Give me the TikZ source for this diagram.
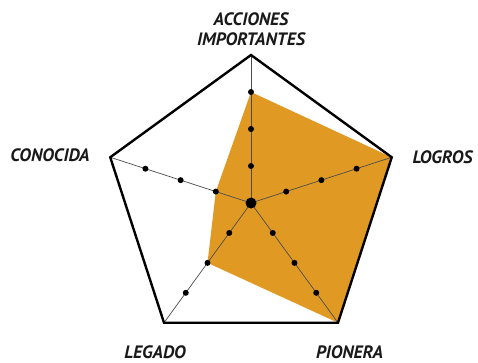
\documentclass[tikz,border=0pt]{standalone}
\usepackage{fontspec}
\setmainfont{PT Sans}
\usetikzlibrary{positioning}
\definecolor{radarfill}{RGB}{224,154,36}

\begin{document}
\begin{tikzpicture}[
    x=1bp, y=1bp,
    outline/.style={draw=black, line width=2.4bp, line join=miter},
    spoke/.style={draw=black!70, line width=0.7bp},
    dot/.style={circle, fill=black, inner sep=0pt, minimum size=6bp},
    hub/.style={circle, fill=black, inner sep=0pt, minimum size=11bp},
    axlabel/.style={font=\fontsize{18}{20}\selectfont\bfseries\itshape, align=center, text=black!90}
]
\useasboundingbox (-251,-159) rectangle (227,203);

% Vertices
\coordinate (c) at (0,0);
\coordinate (acc) at (90:148);
\coordinate (log) at (18:148);
\coordinate (pio) at (-54:148);
\coordinate (leg) at (-126:148);
\coordinate (con) at (162:148);

% Values
\fill[radarfill] (90:111) -- (log) -- (pio) -- (-126:74) -- (162:37) -- cycle;

% Spokes
\draw[spoke] (c) -- (acc);
\draw[spoke] (c) -- (log);
\draw[spoke] (c) -- (pio);
\draw[spoke] (c) -- (leg);
\draw[spoke] (c) -- (con);

% Outline
\draw[outline] (acc) -- (log) -- (pio) -- (leg) -- (con) -- cycle;

% Scale dots
\node[dot] (acc1) at (90:37) {};
\node[dot] (acc2) at (90:74) {};
\node[dot] (acc3) at (90:111) {};
\node[dot] (log1) at (18:37) {};
\node[dot] (log2) at (18:74) {};
\node[dot] (log3) at (18:111) {};
\node[dot] (pio1) at (-54:37) {};
\node[dot] (pio2) at (-54:74) {};
\node[dot] (pio3) at (-54:111) {};
\node[dot] (leg1) at (-126:37) {};
\node[dot] (leg2) at (-126:74) {};
\node[dot] (leg3) at (-126:111) {};
\node[dot] (con1) at (162:37) {};
\node[dot] (con2) at (162:74) {};
\node[dot] (con3) at (162:111) {};
\node[hub] (center) at (c) {};

% Labels
\node[axlabel] (lacc) at (0,174) {ACCIONES\\IMPORTANTES};
\node[axlabel] (llog) at (191.5,46) {LOGROS};
\node[axlabel] (lpio) at (98.5,-149) {PIONERA};
\node[axlabel] (lleg) at (-96,-149) {LEGADO};
\node[axlabel] (lcon) at (-201,48) {CONOCIDA};

\end{tikzpicture}
\end{document}
